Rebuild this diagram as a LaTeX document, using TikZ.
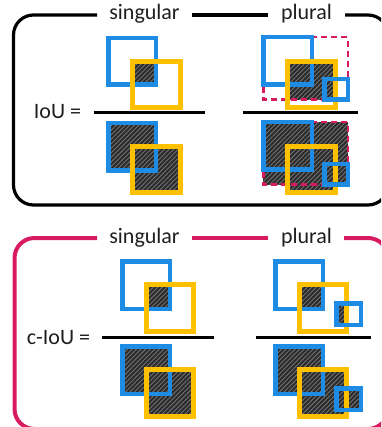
\documentclass[tikz,border=0pt]{standalone}
\usepackage{fontspec}
\setmainfont{Carlito}
\usetikzlibrary{patterns.meta}
\definecolor{myblue}{RGB}{30,139,229}
\definecolor{myyellow}{RGB}{255,192,0}
\definecolor{myred}{RGB}{216,27,96}
\definecolor{txt}{RGB}{30,30,30}
\tikzset{
  bluebox/.style={draw=myblue, line width=4.5pt},
  yelbox/.style={draw=myyellow, line width=5pt},
  reddash/.style={draw=myred, line width=2.5pt, dash pattern=on 6pt off 4pt},
  hatch/.style={fill=black!83, postaction={pattern={Lines[angle=45,distance=3.2pt,line width=0.9pt]}, pattern color=black!55}},
  fracline/.style={draw=black, line width=3pt},
  lbl/.style={font=\fontsize{22}{26}\selectfont, text=txt, anchor=base, inner sep=0pt},
}
\begin{document}
\begin{tikzpicture}[x=1pt, y=-1pt]
\useasboundingbox (0,0) rectangle (381,427);
\begin{scope}
\clip (0,0) rectangle (381,427);
% ---------- top frame
\draw[black, line width=3.2pt, rounded corners=20pt] (97,15) -- (13.5,15) -- (13.5,205) -- (388,205) -- (388,15) -- (345,15);
\draw[black, line width=3.2pt] (192,15) -- (268,15);
% ---------- bottom frame
\draw[myred, line width=4pt, rounded corners=20pt] (97,238) -- (14.5,238) -- (14.5,429) -- (388,429) -- (388,238) -- (344,238);
\draw[myred, line width=4pt] (192,238) -- (268,238);
\end{scope}
\node[lbl] (s1) at (144.5,20) {singular};
\node[lbl] (p1) at (306.5,20) {plural};
\node[lbl] (iou) at (57.5,119) {IoU =};
\draw[fracline] (94,113) -- (205,113);
\draw[fracline] (243,113) -- (358,113);
% singular numerator
\fill[hatch] (132.5,61.5) rectangle (155.75,84.75);
\draw[bluebox] (108.25,38.25) rectangle (155.75,84.75);
\draw[yelbox] (132.5,61.5) rectangle (180.5,107.5);
% singular denominator
\fill[hatch] (108.25,123.25) rectangle (155.75,170.75);
\fill[hatch] (132.5,146.5) rectangle (180.5,192.5);
\draw[bluebox] (108.25,123.25) rectangle (155.75,170.75);
\draw[yelbox] (132.5,146.5) rectangle (180.5,192.5);
% plural numerator
\fill[hatch] (287.5,61.5) rectangle (335.5,99.75);
\draw[reddash] (263.25,37.25) rectangle (347.75,99.75);
\draw[bluebox] (263.25,37.25) rectangle (311.75,84.75);
\draw[yelbox] (287.5,61.5) rectangle (335.5,107.5);
\draw[bluebox] (324.25,79.25) rectangle (347.75,99.75);
% plural denominator
\fill[hatch] (263.25,122.25) rectangle (347.75,184.75);
\fill[hatch] (287.5,146.5) rectangle (335.5,192.5);
\draw[reddash] (263.25,122.25) rectangle (347.75,184.75);
\draw[bluebox] (263.25,122.25) rectangle (311.75,169.75);
\draw[yelbox] (287.5,146.5) rectangle (335.5,192.5);
\draw[bluebox] (324.25,164.25) rectangle (347.75,184.75);
% ---------- bottom
\node[lbl] (s2) at (144.5,243.5) {singular};
\node[lbl] (p2) at (306.5,243.5) {plural};
\node[lbl] (ciou) at (58.5,344) {c-IoU =};
\draw[fracline] (102,337) -- (214,337);
\draw[fracline] (256,337) -- (371,337);
% singular numerator
\fill[hatch] (146.5,284.5) rectangle (169.75,308.75);
\draw[bluebox] (122.25,261.25) rectangle (169.75,308.75);
\draw[yelbox] (146.5,284.5) rectangle (193.5,331.5);
% singular denominator
\fill[hatch] (122.25,346.25) rectangle (169.75,393.75);
\fill[hatch] (146.5,369.5) rectangle (193.5,416.5);
\draw[bluebox] (122.25,346.25) rectangle (169.75,393.75);
\draw[yelbox] (146.5,369.5) rectangle (193.5,416.5);
% plural numerator
\fill[hatch] (299.5,284.5) rectangle (322.75,308.75);
\fill[hatch] (336.25,303.25) rectangle (346.5,324.75);
\draw[bluebox] (275.25,261.25) rectangle (322.75,308.75);
\draw[yelbox] (299.5,284.5) rectangle (346.5,331.5);
\draw[bluebox] (336.25,303.25) rectangle (360.75,324.75);
% plural denominator
\fill[hatch] (275.25,346.25) rectangle (322.75,393.75);
\fill[hatch] (299.5,369.5) rectangle (346.5,416.5);
\fill[hatch] (336.25,388.25) rectangle (360.75,409.75);
\draw[bluebox] (275.25,346.25) rectangle (322.75,393.75);
\draw[yelbox] (299.5,369.5) rectangle (346.5,416.5);
\draw[bluebox] (336.25,388.25) rectangle (360.75,409.75);
\end{tikzpicture}
\end{document}
